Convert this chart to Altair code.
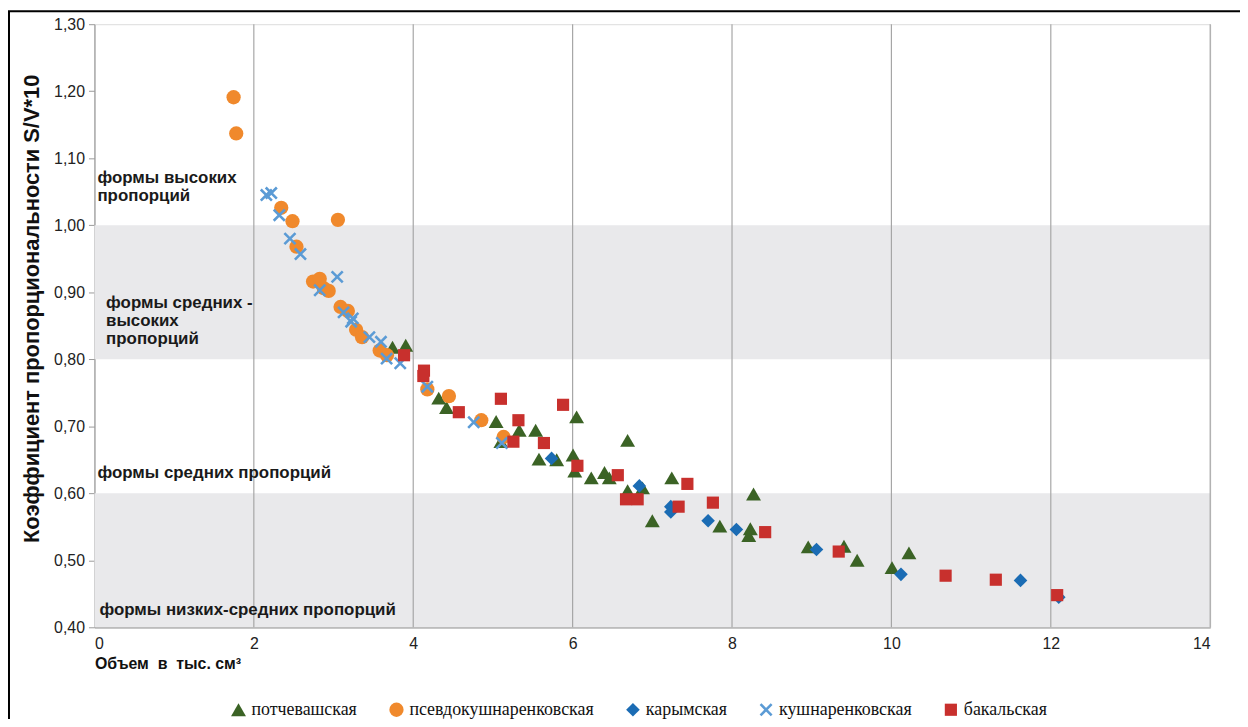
import altair as alt
import pandas as pd

# ---- data ----
series_names = ["потчевашская", "псевдокушнаренковская", "карымская", "кушнаренковская", "бакальская"]

pot_x = [3.74, 3.906, 4.32, 4.418, 5.04, 5.10, 5.33, 5.536, 5.578, 5.80, 6.05, 6.006, 6.027, 6.234, 6.40,
         6.46, 6.69, 6.69, 6.877, 7.00, 7.244, 7.847, 8.23, 8.21, 8.27, 8.956, 9.405, 9.57, 10.008, 10.22]
pot_y = [0.818, 0.821, 0.742, 0.728, 0.707, 0.677, 0.694, 0.694, 0.651, 0.650, 0.714, 0.657, 0.633, 0.623, 0.631,
         0.623, 0.679, 0.604, 0.608, 0.559, 0.623, 0.551, 0.547, 0.537, 0.599, 0.520, 0.521, 0.500, 0.489, 0.511]

pse_x = [1.746, 1.779, 2.344, 2.485, 2.535, 3.055, 2.743, 2.827, 2.877, 2.939, 3.088, 3.18, 3.283, 3.358,
         3.579, 3.67, 4.177, 4.448, 4.854, 5.134]
pse_y = [1.191, 1.137, 1.026, 1.006, 0.968, 1.008, 0.916, 0.920, 0.906, 0.902, 0.878, 0.872, 0.844, 0.833,
         0.813, 0.806, 0.755, 0.745, 0.709, 0.684]

kar_x = [5.736, 6.837, 7.232, 7.232, 7.70, 8.055, 9.06, 10.12, 11.62, 12.1]
kar_y = [0.652, 0.611, 0.580, 0.572, 0.559, 0.546, 0.516, 0.479, 0.470, 0.445]

kush_x = [2.157, 2.219, 2.319, 2.453, 2.585, 3.046, 2.827, 3.126, 3.221, 3.242, 3.45, 3.595, 3.666, 3.837,
          4.177, 4.759, 5.112]
kush_y = [1.045, 1.048, 1.015, 0.980, 0.957, 0.923, 0.903, 0.870, 0.856, 0.861, 0.833, 0.826, 0.801, 0.794,
          0.759, 0.706, 0.675]

bak_x = [3.885, 4.135, 4.127, 4.572, 5.10, 5.32, 5.257, 5.64, 5.88, 6.06, 6.567, 6.67, 6.816, 7.44, 7.33,
         7.76, 8.416, 9.339, 10.68, 11.31, 12.08]
bak_y = [0.806, 0.783, 0.775, 0.721, 0.741, 0.709, 0.677, 0.675, 0.732, 0.641, 0.627, 0.591, 0.591, 0.614, 0.580,
         0.586, 0.542, 0.513, 0.477, 0.471, 0.448]

x_ticks = [0, 2, 4, 6, 8, 10, 12, 14]
y_ticks = [0.4, 0.5, 0.6, 0.7, 0.8, 0.9, 1.0, 1.1, 1.2, 1.3]
band_lo = [0.4, 0.8]
band_hi = [0.6, 1.0]

note_text = ["формы высоких", "пропорций", "формы средних -", "высоких", "пропорций",
             "формы средних пропорций", "формы низких-средних пропорций"]
note_x = [0.037, 0.037, 0.146, 0.146, 0.146, 0.037, 0.062]
note_y = [1.0633, 1.0361, 0.876, 0.8497, 0.8226, 0.6224, 0.4182]

# ---- build tables ----
rows = []
for name, xs, ys in zip(series_names,
                        [pot_x, pse_x, kar_x, kush_x, bak_x],
                        [pot_y, pse_y, kar_y, kush_y, bak_y]):
    for a, b in zip(xs, ys):
        rows.append({"series": name, "x": a, "y": b})
pts = pd.DataFrame(rows)
bands = pd.DataFrame({"x0": [0, 0], "x1": [14, 14], "lo": band_lo, "hi": band_hi})
grid = pd.DataFrame({"x": x_ticks[1:]})
notes = pd.DataFrame({"t": note_text, "x": note_x, "y": note_y})

xscale = alt.Scale(domain=[0, 14], nice=False, zero=False)
yscale = alt.Scale(domain=[0.4, 1.3], nice=False, zero=False)

W, H = 1123, 607

xaxis = alt.Axis(values=x_ticks, format="d", grid=False, ticks=False, domainColor="#9a9a9a", domainWidth=1.2,
                 labelFont="Liberation Sans", labelFontSize=16, labelColor="#222222", labelPadding=8,
                 title="Объем\u00a0\u00a0в\u00a0\u00a0тыс.\u00a0см³", titleFont="Liberation Sans",
                 titleFontSize=16, titleFontWeight="bold", titleColor="#111111",
                 titleX=0, titleY=41, titleAlign="left", titleBaseline="alphabetic", titleAnchor="start")
yaxis = alt.Axis(values=y_ticks, grid=False, ticks=True, tickSize=6, tickColor="#9a9a9a",
                 domainColor="#9a9a9a", domainWidth=1.2,
                 labelExpr="replace(format(datum.value, '.2f'), '.', ',')",
                 labelFont="Liberation Sans", labelFontSize=16, labelColor="#222222", labelPadding=4,
                 title="Коэффициент пропорциональности S/V*10", titleFont="Liberation Sans",
                 titleFontSize=22, titleFontWeight="bold", titleColor="#111111",
                 titleAngle=270, titleX=-63, titleY=286, titleAlign="center", titleBaseline="middle")

band_layer = alt.Chart(bands).mark_rect(color="#e9e9eb").encode(
    x=alt.X("x0:Q", scale=xscale, axis=xaxis),
    x2="x1:Q",
    y=alt.Y("lo:Q", scale=yscale, axis=yaxis),
    y2="hi:Q",
)

grid_layer = alt.Chart(grid).mark_rule(color="#a6a6a6", strokeWidth=1.2).encode(
    x=alt.X("x:Q", scale=xscale)
)

note_layer = alt.Chart(notes).mark_text(
    align="left", baseline="alphabetic", font="Liberation Sans", fontSize=17,
    fontWeight="bold", color="#1a1a1a"
).encode(
    x=alt.X("x:Q", scale=xscale),
    y=alt.Y("y:Q", scale=yscale),
    text="t:N",
)

a = 0.28
xpath = (f"M{-1+a},-1L1,{1-a}L{1-a},1L-1,{-1+a}Z"
         f"M1,{-1+a}L{-1+a},1L-1,{1-a}L{1-a},-1Z")

point_layer = alt.Chart(pts).mark_point(filled=True, opacity=1, strokeWidth=0).encode(
    x=alt.X("x:Q", scale=xscale),
    y=alt.Y("y:Q", scale=yscale),
    color=alt.Color("series:N", sort=series_names,
                    scale=alt.Scale(domain=series_names,
                                    range=["#3b6325", "#f0892c", "#1b6cb4", "#5b9bd5", "#c8302d"]),
                    legend=alt.Legend(orient="none", legendX=136, legendY=681, direction="horizontal",
                                      title=None, labelFont="Liberation Serif", labelFontSize=18,
                                      labelColor="#111111", symbolSize=110, symbolStrokeWidth=0,
                                      labelOffset=4, columnPadding=30, padding=0, columns=5,
                                      labelLimit=0)),
    shape=alt.Shape("series:N", sort=series_names,
                    scale=alt.Scale(domain=series_names,
                                    range=["triangle-up", "circle", "diamond", xpath, "square"])),
    size=alt.Size("series:N", sort=series_names,
                  scale=alt.Scale(domain=series_names, range=[225, 150, 200, 196, 169]),
                  legend=None),
)

frame = alt.Chart(pd.DataFrame({"k": [0]})).mark_rect(
    fill="transparent", stroke="#000000", strokeWidth=2
).encode(
    x=alt.value(-86), x2=alt.value(W + 60), y=alt.value(-13), y2=alt.value(H + 120)
)

chart = alt.layer(band_layer, grid_layer, note_layer, point_layer, frame).properties(
    width=W, height=H,
    autosize=alt.AutoSizeParams(type="none"),
    padding={"left": 87, "top": 14, "right": 30, "bottom": 90},
).configure_view(stroke=None).configure(background="white")

chart.save("out.html", embed_options={"renderer": "svg", "actions": False})
